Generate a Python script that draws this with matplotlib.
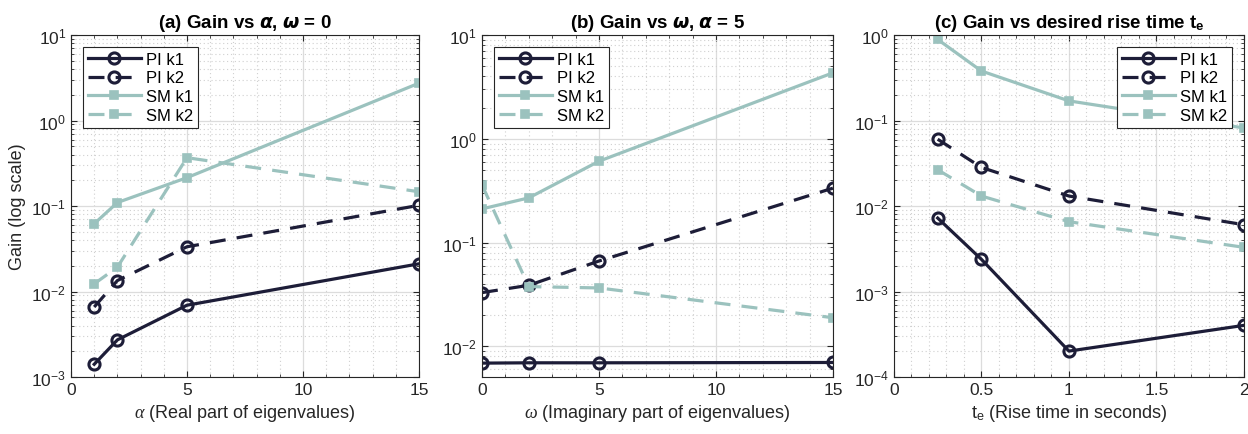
import numpy as np
import matplotlib
matplotlib.use("Agg")
from matplotlib import pyplot as plt
from matplotlib.ticker import MultipleLocator, LogLocator, NullFormatter, FormatStrFormatter

plt.rcParams["font.family"] = ["Liberation Sans", "DejaVu Sans"]
plt.rcParams["mathtext.fontset"] = "custom"
plt.rcParams["mathtext.rm"] = "Liberation Sans"
plt.rcParams["mathtext.it"] = "Liberation Serif:italic"
plt.rcParams["mathtext.bf"] = "Liberation Sans:bold"

# (a) gains vs alpha, omega = 0
alpha = [1, 2, 5, 15]
a_pi_k1 = [0.00141, 0.00272, 0.00692, 0.0211]
a_pi_k2 = [0.0066, 0.01345, 0.0334, 0.102]
a_sm_k1 = [0.0621, 0.110, 0.215, 2.74]
a_sm_k2 = [0.0123, 0.0193, 0.368, 0.147]

# (b) gains vs omega, alpha = 5
omega = [0, 2, 5, 15]
b_pi_k1 = [0.0069, 0.00695, 0.00695, 0.0070]
b_pi_k2 = [0.033, 0.0388, 0.0665, 0.335]
b_sm_k1 = [0.2115, 0.27, 0.609, 4.33]
b_sm_k2 = [0.360, 0.0377, 0.0366, 0.0189]

# (c) gains vs desired rise time
te = [0.25, 0.5, 1, 2]
c_pi_k1 = [0.00724, 0.00238, 0.000201, 0.000402]
c_pi_k2 = [0.0605, 0.0283, 0.0131, 0.00605]
c_sm_k1 = [0.89, 0.38, 0.17, 0.082]
c_sm_k2 = [0.0266, 0.0131, 0.00656, 0.00329]

labels = ["PI k1", "PI k2", "SM k1", "SM k2"]
dark = "#1d1d38"
teal = "#9bc2be"
txt = "#262626"


def draw_panel(ax, x, series, title, xlabel, xlim, ylim, xmajor, xminor, legend_loc):
    styles = [(dark, "-", "o"), (dark, "--", "o"), (teal, "-", "s"), (teal, "--", "s")]
    for y, lab, (col, ls, mk) in zip(series, labels, styles):
        dash = (5, 3.5) if ls == "--" else (None, None)
        if mk == "o":
            ax.semilogy(x, y, color=col, ls=ls, lw=2.3, marker="o", ms=8,
                        mfc="none", mec=col, mew=2.2, label=lab, dashes=dash)
        else:
            ax.semilogy(x, y, color=col, ls=ls, lw=2.3, marker="s", ms=6,
                        mfc=teal, mec=col, mew=1.2, label=lab, dashes=dash)
    ax.set_xlim(*xlim)
    ax.set_ylim(*ylim)
    ax.xaxis.set_major_locator(MultipleLocator(xmajor))
    ax.xaxis.set_minor_locator(MultipleLocator(xminor))
    ax.xaxis.set_major_formatter(FormatStrFormatter("%g"))
    ax.yaxis.set_major_locator(LogLocator(base=10, numticks=10))
    ax.yaxis.set_minor_locator(LogLocator(base=10, subs=np.arange(2, 10), numticks=20))
    ax.yaxis.set_minor_formatter(NullFormatter())
    ax.grid(True, which="major", color="#dcdcdc", lw=0.9)
    ax.grid(True, which="minor", color="#d0d0d0", lw=0.8, ls=(0, (1, 2.5)))
    ax.set_axisbelow(True)
    ax.tick_params(which="both", direction="in", top=True, right=True, colors=txt, labelsize=12.5)
    ax.tick_params(which="major", length=4)
    ax.tick_params(which="minor", length=2)
    for s in ax.spines.values():
        s.set_color(txt)
        s.set_linewidth(0.8)
    ax.set_title(title, fontsize=13.5, fontweight="bold", color="black", pad=6)
    ax.set_xlabel(xlabel, fontsize=13, color=txt)
    leg = ax.legend(loc=legend_loc, fontsize=12, handlelength=3.2, fancybox=False,
                    framealpha=1, borderaxespad=0.7, labelspacing=0.22, handletextpad=0.3,
                    borderpad=0.3)
    leg.get_frame().set_edgecolor(txt)
    leg.get_frame().set_linewidth(0.8)


fig = plt.figure(figsize=(12.48, 4.35), dpi=100)
ax_a = fig.add_axes([0.0569, 0.131, 0.2788, 0.786])
ax_b = fig.add_axes([0.3862, 0.131, 0.2812, 0.786])
ax_c = fig.add_axes([0.7163, 0.131, 0.2804, 0.786])

draw_panel(ax_a, alpha, [a_pi_k1, a_pi_k2, a_sm_k1, a_sm_k2],
           r"(a) Gain vs $\boldsymbol{\alpha}$, $\boldsymbol{\omega}$ = 0",
           r"$\alpha$ (Real part of eigenvalues)", (0, 15), (1e-3, 10), 5, 1, "upper left")
ax_a.set_ylabel("Gain (log scale)", fontsize=13, color=txt)

draw_panel(ax_b, omega, [b_pi_k1, b_pi_k2, b_sm_k1, b_sm_k2],
           r"(b) Gain vs $\boldsymbol{\omega}$, $\boldsymbol{\alpha}$ = 5",
           r"$\omega$ (Imaginary part of eigenvalues)", (0, 15), (5.07e-3, 10), 5, 1, "upper left")

draw_panel(ax_c, te, [c_pi_k1, c_pi_k2, c_sm_k1, c_sm_k2],
           r"(c) Gain vs desired rise time t$_\mathbf{e}$",
           r"t$_\mathrm{e}$ (Rise time in seconds)", (0, 2), (1e-4, 1), 0.5, 0.1, "upper right")

fig.savefig("out.png", dpi=100)
